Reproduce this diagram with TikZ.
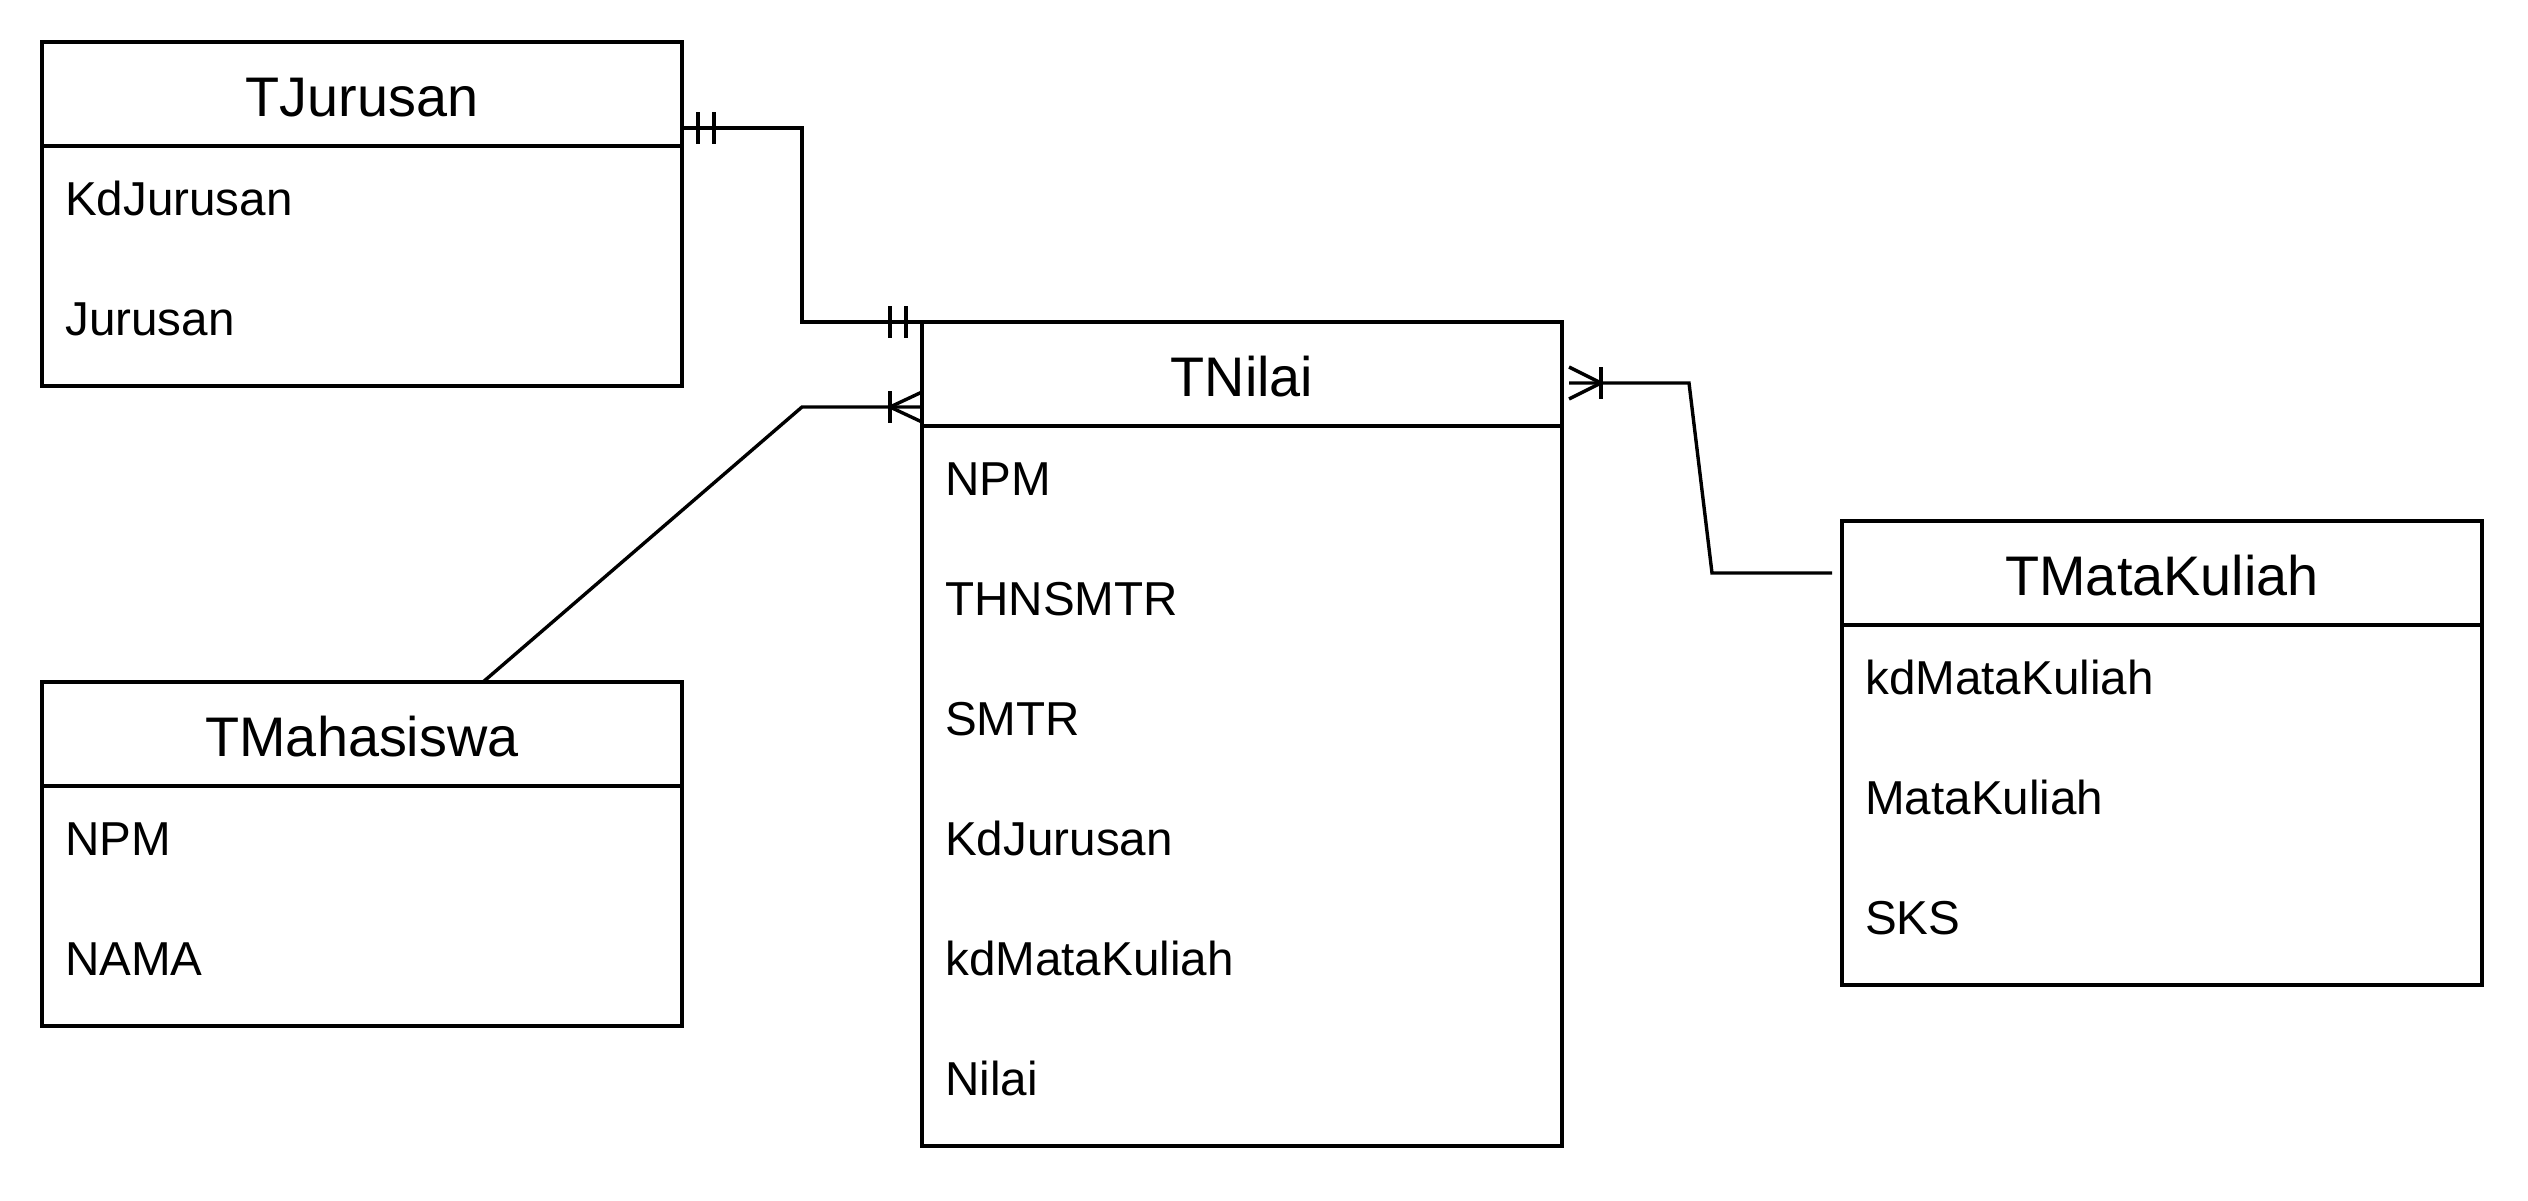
\documentclass[tikz,border=0pt]{standalone}
\usepackage{fontspec}
\setmainfont{Liberation Sans}
\begin{document}
\begin{tikzpicture}[x=1bp,y=-1bp,
  ent/.style={draw, line width=3.4bp, minimum width=640bp, inner sep=0pt, outer sep=0pt, anchor=north west},
  hdr/.style={ent, minimum height=104bp, font=\fontsize{55.8bp}{66bp}\selectfont, text height=44bp, text depth=0pt},
  row/.style={anchor=base west, inner sep=0pt, font=\fontsize{47.6bp}{56bp}\selectfont},
  conn/.style={line width=3.4bp, line join=miter},
]
\useasboundingbox (0,0) rectangle (2528,1200);

% TJurusan
\node[hdr] (tjh) at (42,42) {TJurusan};
\node[ent, minimum height=240bp] (tjb) at (42,146) {};
\node[row] (tj1) at (65,215) {KdJurusan};
\node[row] (tj2) at (65,335) {Jurusan};

% TNilai
\node[hdr] (tnh) at (922,322) {TNilai};
\node[ent, minimum height=720bp] (tnb) at (922,426) {};
\node[row] (tn1) at (945,495) {NPM};
\node[row] (tn2) at (945,615) {THNSMTR};
\node[row] (tn3) at (945,735) {SMTR};
\node[row] (tn4) at (945,855) {KdJurusan};
\node[row] (tn5) at (945,975) {kdMataKuliah};
\node[row] (tn6) at (945,1095) {Nilai};

% TMahasiswa
\node[hdr] (tmh) at (42,682) {TMahasiswa};
\node[ent, minimum height=240bp] (tmb) at (42,786) {};
\node[row] (tm1) at (65,855) {NPM};
\node[row] (tm2) at (65,975) {NAMA};

% TMataKuliah
\node[hdr] (tkh) at (1842,521) {TMataKuliah};
\node[ent, minimum height=360bp] (tkb) at (1842,625) {};
\node[row] (tk1) at (1865,694) {kdMataKuliah};
\node[row] (tk2) at (1865,814) {MataKuliah};
\node[row] (tk3) at (1865,934) {SKS};

% connector TJurusan -- TNilai (one and only one both ends)
\coordinate (a1) at ([yshift=18bp]tjb.north east);
\draw[conn] (a1) -- ++(120,0) |- (tnh.north west);
\draw[conn] ([xshift=16bp]a1) ++(0,-16) -- ++(0,32);
\draw[conn] ([xshift=32bp]a1) ++(0,-16) -- ++(0,32);
\draw[conn] ([xshift=-16bp]tnh.north west) ++(0,-16) -- ++(0,32);
\draw[conn] ([xshift=-32bp]tnh.north west) ++(0,-16) -- ++(0,32);

% connector TMahasiswa -- TNilai (one or many at TNilai)
\coordinate (b1) at ([yshift=19bp]tnh.south west);
\draw[conn] ([xshift=121bp]tmh.north) -- ([xshift=-120bp]b1) -- (b1);
\draw[conn] ([yshift=15bp]b1) -- ([xshift=-32bp]b1) -- ([yshift=-15bp]b1);
\draw[conn] ([xshift=-32bp]b1) ++(0,-16) -- ++(0,32);

% connector TNilai -- TMataKuliah (one or many at TNilai)
\coordinate (c1) at ([xshift=7bp,yshift=43bp]tnh.south east);
\draw[conn] (c1) -- ++(120,0) -- ([xshift=-130bp]tkh.west) -- ([xshift=-10bp]tkh.west);
\draw[conn] ([yshift=16bp]c1) -- ([xshift=32bp]c1) -- ([yshift=-16bp]c1);
\draw[conn] ([xshift=32bp]c1) ++(0,-16) -- ++(0,32);
\end{tikzpicture}
\end{document}
